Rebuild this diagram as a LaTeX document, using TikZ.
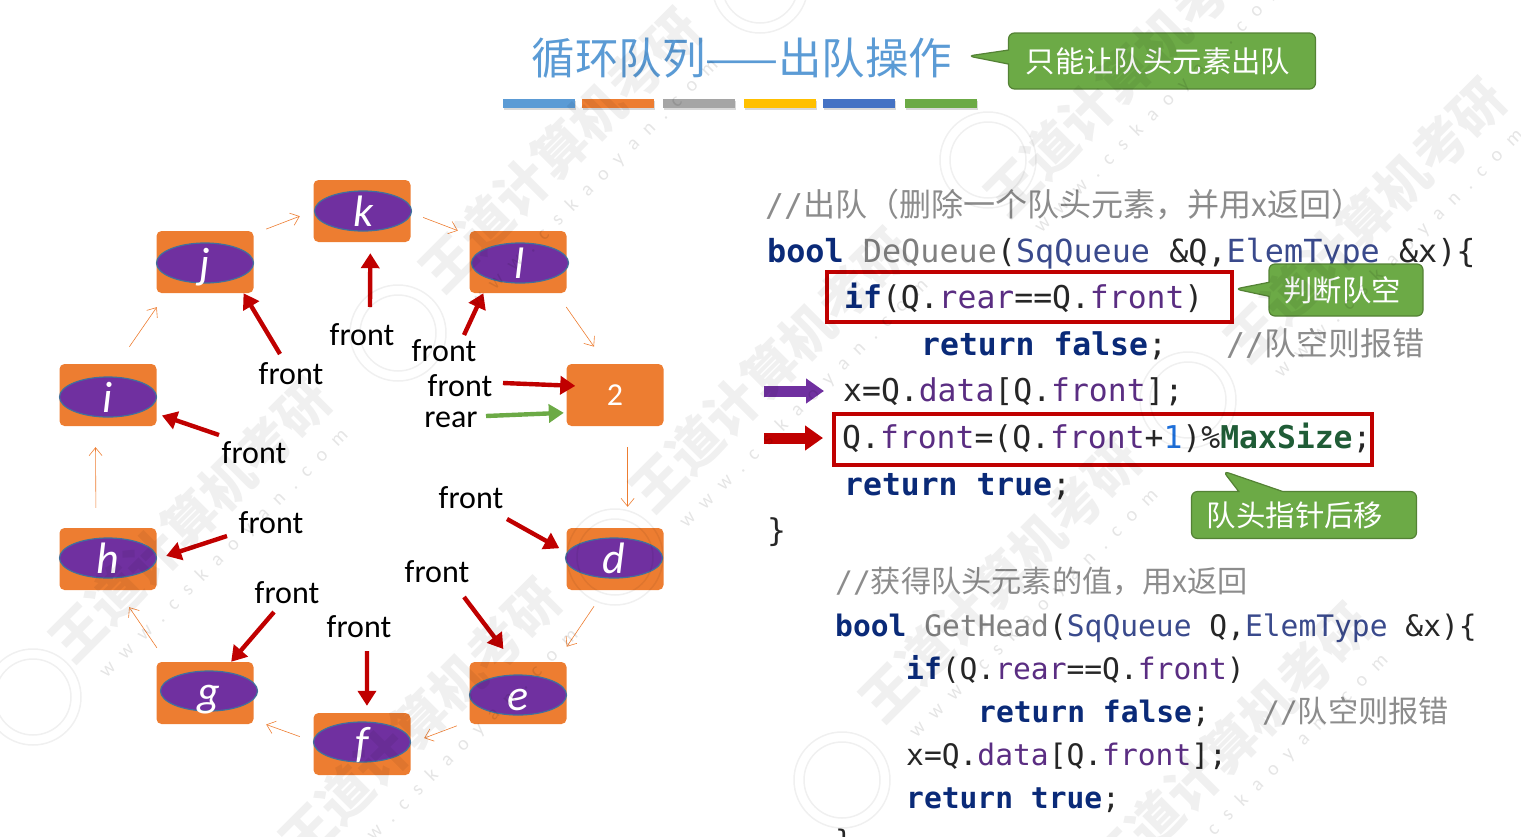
\documentclass[tikz,border=0pt]{standalone}
\usepackage{fontspec}
\setmainfont{Carlito}
\setmonofont{DejaVu Sans Mono}
\newfontfamily\cjk{Noto Sans CJK SC}
\newfontfamily\cmtcjk[Scale=1.02]{Noto Sans CJK SC}
\usetikzlibrary{arrows.meta,shapes.geometric,shapes.callouts,shadows}
\definecolor{boxorange}{HTML}{ED7D31}
\definecolor{ovalpurple}{HTML}{7030A0}
\definecolor{ovalblue}{HTML}{41719C}
\definecolor{darkred}{HTML}{C00000}
\definecolor{notegreen}{HTML}{6CAA46}
\definecolor{noteedge}{HTML}{548235}
\definecolor{titleblue}{HTML}{5B9BD5}
\definecolor{bargray}{HTML}{A5A5A5}
\definecolor{baryellow}{HTML}{FFC000}
\definecolor{barblue}{HTML}{4472C4}
\definecolor{kwblue}{HTML}{0A2A78}
\definecolor{typeblue}{HTML}{3A4A8C}
\definecolor{fieldpurple}{HTML}{5A2D82}
\definecolor{fngray}{HTML}{808080}
\definecolor{cmtgray}{HTML}{8C8C8C}
\definecolor{numblue}{HTML}{1E6FD9}
\definecolor{sizegreen}{HTML}{1F5C36}
\newcommand{\kw}[1]{{\bfseries\color{kwblue}#1}}
\newcommand{\tp}[1]{{\color{typeblue}#1}}
\newcommand{\fd}[1]{{\color{fieldpurple}#1}}
\newcommand{\fn}[1]{{\color{fngray}#1}}
\newcommand{\cm}[1]{{\color{cmtgray}//\cmtcjk #1}}
\newcommand{\gap}{\hspace{12pt}}
\tikzset{
	every cell/.style={
		rectangle,
		rounded corners=5pt,
		fill=boxorange,
		minimum width=97pt,
		minimum height=62pt,
		inner sep=0pt
	},
	every oval/.style={
		ellipse,
		draw=ovalblue,
		line width=1.2pt,
		fill=ovalpurple,
		minimum width=97pt,
		minimum height=40pt,
		inner sep=0pt
	},
	letter/.style={
		anchor=base,
		yshift=-15pt,
		text=white,
		font=\fontsize{44}{50}\selectfont\itshape
	},
	ring/.style={
		draw=boxorange,
		line width=0.6pt,
		-{Straight Barb[length=8pt,width=13pt]}
	},
	pointer/.style={
		line width=4.4pt,
		-{Triangle[length=15pt,width=18pt]}
	},
	word/.style={font=\fontsize{32}{36}\selectfont, inner sep=0pt},
	note/.style={
		rectangle callout,
		rounded corners=6pt,
		fill=notegreen,
		draw=noteedge,
		line width=1.2pt,
		text=white,
		inner sep=0pt,
		font=\cjk\fontsize{29.4}{34}\selectfont
	},
	bar/.style={
		rectangle,
		minimum width=72pt,
		minimum height=9pt,
		inner sep=0pt,
		drop shadow={opacity=0.3, shadow xshift=1pt, shadow yshift=-2pt}
	},
	codeline/.style={anchor=base west, inner sep=0pt, text=black!85},
	bigcode/.style={codeline, font=\ttfamily\fontsize{31.4}{38}\selectfont},
	smallcode/.style={codeline, font=\ttfamily\fontsize{29.6}{36}\selectfont},
	redframe/.style={draw=darkred, line width=3.6pt},
	block/.style={line width=11pt, -{Triangle[length=18pt,width=24pt]}},
	stamp/.style={draw=black, opacity=0.06, line width=1.5pt},
	wmark/.style={
		rotate=45,
		text=black,
		opacity=0.06,
		font=\cjk\bfseries\fontsize{53}{60}\selectfont
	},
	wsite/.style={
		rotate=45,
		text=black,
		opacity=0.10,
		font=\fontsize{20}{24}\selectfont
	},
}

\begin{document}
\begin{tikzpicture}[x=1pt, y=-1pt, >=stealth]

\path[use as bounding box, clip] (0,0) rectangle (1521,836);

\node [text=titleblue, font=\cjk\fontsize{43.5}{50}\selectfont, inner sep=0pt] (title) at (742,58) {循环队列——出队操作};

\foreach \x/\c [count=\i] in {539/titleblue, 618/boxorange, 699/bargray, 780/baryellow, 859/barblue, 941/notegreen}
	\node [bar, fill=\c] (bar-\i) at (\x,103) {};

\node [note, minimum width=307pt, minimum height=56pt, callout pointer width=14pt, callout absolute pointer={(968,56)}] (note-title) at (1162,61) {只能让队头元素出队\kern8pt};

\foreach \n/\x/\y in {k/362/211, j/205/262, l/518/262, 2/615/395, i/108/395, h/108/559, d/615/559, g/205/693, e/518/693, f/362/744}
	\node [every cell] (cell-\n) at (\x,\y) {};

\foreach \n/\x/\y in {k/363/211, j/205/263, l/520/263, i/108/397, h/108/558, d/614/558, g/209/691, e/518/695, f/362/742} {
	\node [every oval] (oval-\n) at (\x,\y) {};
	\node [letter] (letter-\n) at (oval-\n) {\n};
}

\node [text=white, inner sep=0pt, font=\fontsize{32}{36}\selectfont] (num-2) at (cell-2) {2};

\foreach \a/\p/\b/\q/\s/\e in {j/30.2/k/180/13.4/14.5, k/-2.8/l/151.2/13.3/12.3, l/-39/2/106/17/21, 2/-68.8/d/68.8/21/21, d/-108/e/39.4/19.4/18.2, e/210.4/f/1.3/13.3/14.4, f/177.4/g/-29.6/14.3/13.3, g/141.1/h/-73.1/17/20.6, h/111.2/i/248.8/20/21, i/73.8/j/219/20.8/17}
	\draw [ring, shorten <=\s pt, shorten >=\e pt] (cell-\a.\p) -- (cell-\b.\q);

\foreach \n/\lx/\ly/\tx/\ty/\p/\s in {j/291/374/280/354/-39/0, k/362/335/370/307/-75.5/11, l/444/351/464/335/222.4/0, 2/460/386/503/383/169.5/-9, i/254/453/219/435/-21.4/5.5, h/271/523/227/536/0/10, d/471/498/507/519/172/8, e/437/572/464/597/99/16, g/287/593/274/612/50/0, f/359/627/367/651/81/7} {
	\node [word] (front-\n) at (\lx,\ly) {front};
	\coordinate (tail-\n) at (\tx,\ty);
	\draw [pointer, draw=darkred, fill=darkred, shorten >=\s pt] (tail-\n) -- (cell-\n.\p);
}

\node [word] (rear) at (451,419.5) {rear};
\coordinate (tail-rear) at (486,416);
\draw [pointer, draw=notegreen, fill=notegreen, shorten >=2.5pt] (tail-rear) -- (cell-2.200.4);

\foreach \y/\x/\t in {
	216/765/{\cm{出队（删除一个队头元素，并用x返回）}},
	262/767/{\fontsize{31.8}{38}\selectfont\kw{bool} \fn{DeQueue}(\tp{SqQueue} \&Q,\tp{ElemType} \&x)\{},
	308/844/{\kw{if}(Q.\fd{rear}==Q.\fd{front})},
	355/921/{\kw{return} \kw{false};},
	401/843/{x=Q.\fd{data}[Q.\fd{front}];},
	448/842/{Q.\fd{front}=(Q.\fd{front}+{\color{numblue}1})\%{\bfseries\color{sizegreen}MaxSize};},
	495/844/{\kw{return} \kw{true};},
	541/767/{\}}}
	\node [bigcode] (code-\y) at (\x,\y) {\t};

\node [bigcode] (code-note) at (1226,355) {\cm{队空则报错}};

\foreach \y/\x/\t in {
	592/835/{\cm{获得队头元素的值，用x返回}},
	636/835/{\kw{bool} \fn{GetHead}(\tp{SqQueue} Q,\tp{ElemType} \&x)\{},
	679/906/{\kw{if}(Q.\fd{rear}==Q.\fd{front})},
	722/978/{\kw{return} \kw{false};},
	765/906/{x=Q.\fd{data}[Q.\fd{front}];},
	808/906/{\kw{return} \kw{true};},
	851/835/{\}}}
	\node [smallcode] (code-\y) at (\x,\y) {\t};

\node [smallcode] (code-tail) at (1262,722) {\cm{队空则报错}};

\draw [redframe] (827,272) rectangle (1232,322);
\draw [redframe] (834,414) rectangle (1372,465);

\coordinate (mark-x) at (764,391);
\coordinate (mark-front) at (764,438);
\draw [block, draw=ovalpurple, shorten >=19pt] (mark-x) -- (mark-x -| code-401.west);
\draw [block, draw=darkred, shorten >=19pt] (mark-front) -- (mark-front -| code-448.west);

\node [note, minimum width=154pt, minimum height=52pt, callout pointer width=14pt, callout absolute pointer={(1235,289)}] (note-empty) at (1346,290) {判断队空\kern8pt};
\node [note, minimum width=225pt, minimum height=47pt, callout pointer width=44pt, callout absolute pointer={(1223,471)}] (note-move) at (1304,515) {队头指针后移\kern18pt};

\foreach \x/\y [count=\i] in {560/150, 190/520, 420/720, 770/370, 1125/75, 1365/220, 1000/580, 1230/745} {
	\node [wmark] (wmark-\i) at (\x,\y) {王道计算机考研};
	\node [wsite] (wsite-\i) at (\x+34,\y+34) {w\gap w\gap w\gap .\gap c\gap s\gap k\gap a\gap o\gap y\gap a\gap n\gap .\gap c\gap o\gap m};
}

\foreach \x/\y in {398/333, 988/160, 1188/400, 842/780, 33/697, 615/557, 760/-15} {
	\draw [stamp] (\x,\y) circle (48);
	\draw [stamp] (\x,\y) circle (38);
}

\end{tikzpicture}
\end{document}
